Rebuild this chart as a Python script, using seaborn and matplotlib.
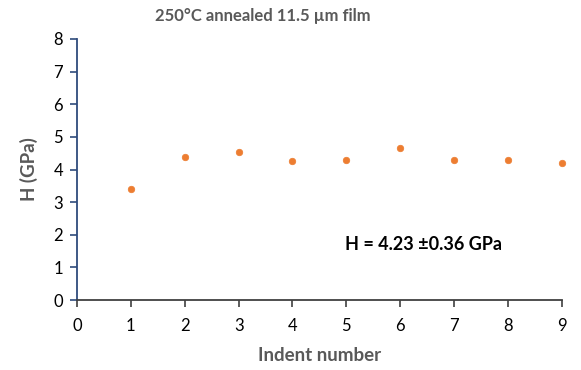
import matplotlib
matplotlib.use("Agg")
import matplotlib.pyplot as plt
import seaborn as sns
import pandas as pd

# Indentation hardness per indent
indent = [1, 2, 3, 4, 5, 6, 7, 8, 9]
hardness = [3.40, 4.39, 4.54, 4.26, 4.29, 4.66, 4.29, 4.29, 4.20]
mean_h = 4.23
std_h = 0.36

x_ticks = list(range(0, 10))
y_ticks = list(range(0, 9))

sns.set_style("white")
plt.rcParams["font.family"] = ["Lato", "DejaVu Sans"]

df = pd.DataFrame({"Indent number": indent, "H (GPa)": hardness})

fig = plt.figure(figsize=(5.81, 3.70), dpi=100)
ax = fig.add_axes([0.1325, 0.189, 0.8345, 0.7056])

sns.scatterplot(data=df, x="Indent number", y="H (GPa)", ax=ax,
                color="#ED7D31", marker="o", s=22, edgecolor="#ED7D31",
                linewidth=0.5, zorder=3, clip_on=False)

ax.set_xlim(0, 9)
ax.set_ylim(0, 8)
ax.set_xticks(x_ticks)
ax.set_yticks(y_ticks)
ax.tick_params(axis="both", which="major", labelsize=12, labelcolor="#000000",
               direction="out", length=5, width=1.2, pad=5,
               bottom=True, left=True)
ax.tick_params(axis="x", color="#404040", pad=8)
ax.tick_params(axis="y", color="#2F4B7C")

for side in ["top", "right"]:
    ax.spines[side].set_visible(False)
ax.spines["left"].set_color("#2F4B7C")
ax.spines["left"].set_linewidth(1.3)
ax.spines["bottom"].set_color("#404040")
ax.spines["bottom"].set_linewidth(1.3)

ax.set_xlabel("Indent number", fontsize=13.5, fontweight="bold", color="#595959", labelpad=9)
ax.set_ylabel("H (GPa)", fontsize=13.5, fontweight="bold", color="#595959", labelpad=11)

ax.text(4.97, 1.69, f"H = {mean_h:.2f} \u00b1{std_h:.2f} GPa", fontsize=13,
        fontweight="bold", color="#000000", ha="left", va="center")

fig.text(0.452, 0.958, "250°C annealed 11.5 µm film", fontsize=12,
         fontweight="bold", color="#595959", ha="center", va="center")

fig.savefig("out.png", dpi=100)
